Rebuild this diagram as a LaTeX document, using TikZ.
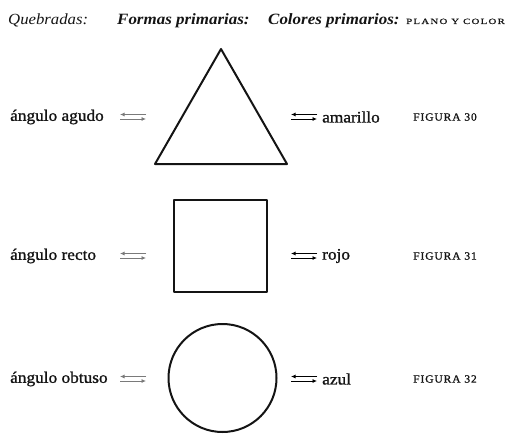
\documentclass[tikz,border=0pt]{standalone}
\usepackage{fontspec}
\setmainfont{Liberation Serif}
\usetikzlibrary{positioning,arrows.meta}
\definecolor{inkblack}{HTML}{141414}
\definecolor{inkfaint}{HTML}{7A7A7A}

\begin{document}
\begin{tikzpicture}[x=1pt, y=-1pt,
  every node/.style={text=inkblack, inner sep=0pt},
  head/.style={font=\fontsize{15.7}{18}\selectfont\bfseries\itshape\addfontfeatures{FakeStretch=1.08}, anchor=base west},
  lbl/.style={font=\fontsize{16}{18}\selectfont\addfontfeatures{FakeStretch=1.08,FakeBold=1.2}, anchor=west},
  fig/.style={font=\fontsize{11}{13}\selectfont\addfontfeatures{FakeStretch=1.05,LetterSpace=8,FakeBold=1}, anchor=west},
  figure/.style={draw=inkblack, line width=2pt, line join=round},
  harp/.style={line width=0.8pt, -{Latex[length=4.5pt, width=4pt]}},
  faint/.style={draw=inkfaint, fill=inkfaint}]
\useasboundingbox (0,0) rectangle (513,433);

% cabecera
\node[head, font=\fontsize{15.5}{17}\selectfont\itshape\addfontfeatures{FakeStretch=1.08}] (queb) at (8,25) {Quebradas:};
\node[head] (formas) at (117,25) {Formas primarias:};
\node[head] (colores) at (268,25) {Colores primarios:};
\node[anchor=base west, font=\fontsize{8}{10}\selectfont\addfontfeatures{FakeStretch=1.35,LetterSpace=16,FakeBold=1}] (plano) at (406,24) {PLANO Y COLOR};

% formas
\draw[figure] (221,49) -- (287,164) -- (155,164) -- cycle;
\draw[figure] (174,200) rectangle (267,292);
\draw[figure] (222.5,378) circle (54);

% filas
\foreach \y/\ang/\col/\n in {117/agudo/amarillo/30, 256/recto/rojo/31, 379/obtuso/azul/32} {
  \node[lbl] (ang\n) at (10,\y) {ángulo \ang};
  \coordinate (la\n) at (120,\y);
  \coordinate (lb\n) at (146,\y);
  \draw[harp, faint] ([yshift=-2]la\n) -- ([yshift=-2]lb\n);
  \draw[harp, faint] ([yshift=2.5]lb\n) -- ([yshift=2.5]la\n);
  \coordinate (ra\n) at (291,\y);
  \coordinate (rb\n) at (317,\y);
  \draw[harp, fill=inkblack] ([yshift=-2]ra\n) -- ([yshift=-2]rb\n);
  \draw[harp, fill=inkblack] ([yshift=2.5]rb\n) -- ([yshift=2.5]ra\n);
  \node[lbl, right=5pt of rb\n] (col\n) {\col};
  \node[fig] (fig\n) at (413,\y) {FIGURA \n};
}
\end{tikzpicture}
\end{document}
